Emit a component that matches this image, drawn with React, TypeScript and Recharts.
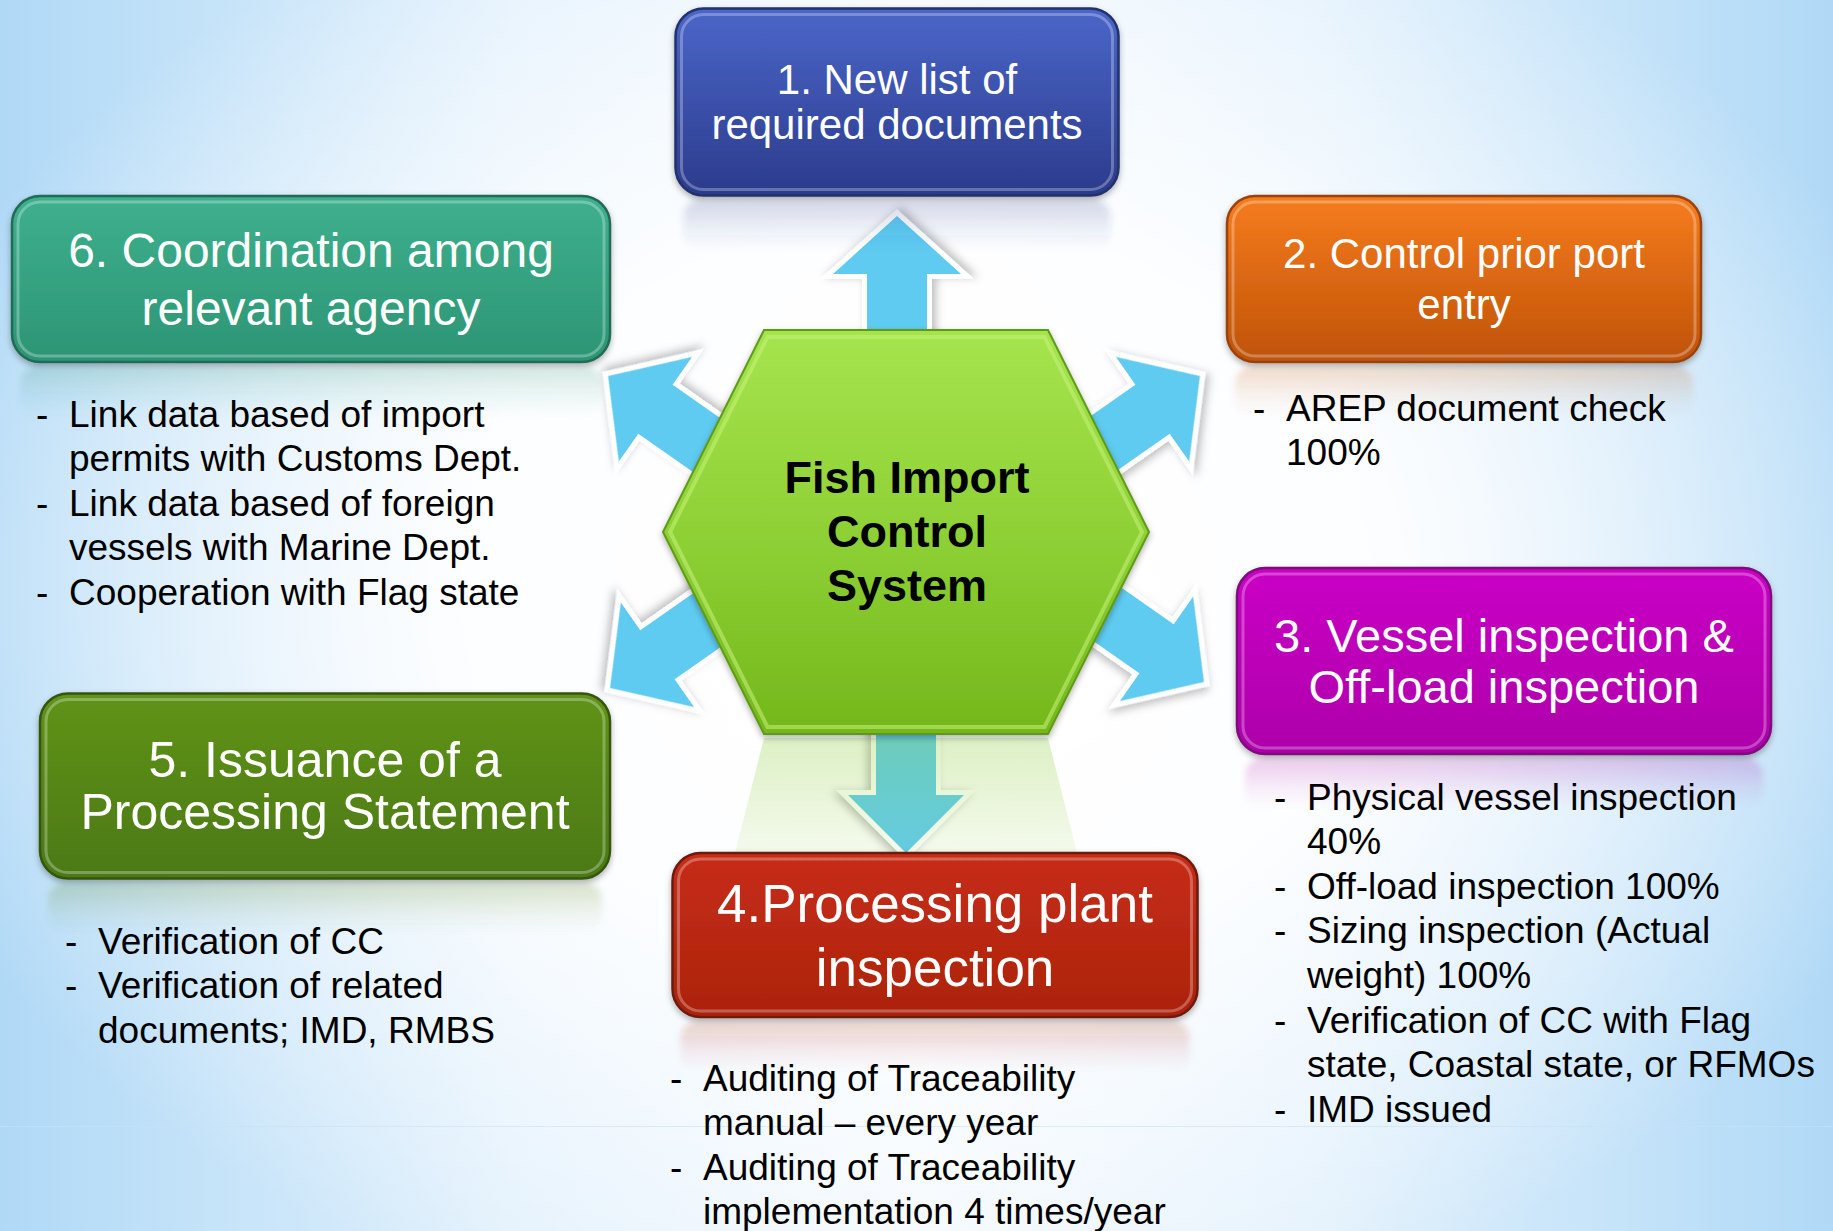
import React from 'react';
import { ScatterChart, Scatter, XAxis, YAxis } from 'recharts';

const W = 1833;
const H = 1231;
const FONT = "'Liberation Sans', Arial, Helvetica, sans-serif";

// box titles, in step order
const stepTitles: string[][] = [
    ['1. New list of', 'required documents'],
    ['2. Control prior port', 'entry'],
    ['3. Vessel inspection &', 'Off-load inspection'],
    ['4.Processing plant', 'inspection'],
    ['5. Issuance of a', 'Processing Statement'],
    ['6. Coordination among', 'relevant agency'],
];

// bullet items under each box (each item wraps as in the slide)
const stepDetails: string[][][] = [
    [],
    [['AREP document check', '100%']],
    [
        ['Physical vessel inspection', '40%'],
        ['Off-load inspection 100%'],
        ['Sizing inspection (Actual', 'weight) 100%'],
        ['Verification of CC with Flag', 'state, Coastal state, or RFMOs'],
        ['IMD issued'],
    ],
    [
        ['Auditing of Traceability', 'manual \u2013 every year'],
        ['Auditing of Traceability', 'implementation 4 times/year'],
    ],
    [['Verification of CC'], ['Verification of related', 'documents; IMD, RMBS']],
    [
        ['Link data based of import', 'permits with Customs Dept.'],
        ['Link data based of foreign', 'vessels with Marine Dept.'],
        ['Cooperation with Flag state'],
    ],
];

const hubTitle = ['Fish Import', 'Control', 'System'];

// layout, in page pixels
const boxLayout = [
    { x: 897, y: 102, w: 443, h: 187, size: 42, gap: 45, top: '#4b66c9', bottom: '#2b3b8b', edge: '#22306a' },
    { x: 1464, y: 279, w: 474, h: 166, size: 42, gap: 51, top: '#f67c1e', bottom: '#bf5307', edge: '#9a4308' },
    { x: 1504, y: 661, w: 534, h: 186, size: 47, gap: 51, top: '#ca02c5', bottom: '#ad00aa', edge: '#7c0a7a' },
    { x: 935, y: 935, w: 525, h: 164, size: 53, gap: 64, top: '#c72d14', bottom: '#ab230f', edge: '#6c1a10' },
    { x: 325, y: 786, w: 570, h: 185, size: 50, gap: 52, top: '#60931a', bottom: '#4b7912', edge: '#35550e' },
    { x: 311, y: 279, w: 598, h: 166, size: 48, gap: 58, top: '#3eb08d', bottom: '#2c9574', edge: '#216a55' },
];

const detailLayout = [
    null,
    { x: 1286, y: 408 },
    { x: 1307, y: 797 },
    { x: 703, y: 1078 },
    { x: 98, y: 941 },
    { x: 69, y: 414 },
];

// arrow tips and pointing direction (degrees, screen coords)
const arrowLayout = [
    { x: 897, y: 216, angle: -90, head: 64 },
    { x: 1200, y: 376, angle: -35, head: 64 },
    { x: 1204, y: 682, angle: 35, head: 64 },
    { x: 906, y: 853, angle: 90, head: 58 },
    { x: 610, y: 688, angle: 145, head: 64 },
    { x: 608, y: 376, angle: -145, head: 64 },
];

const hubLayout = [{ x: 906, y: 532, rx: 243, ry: 202, inset: 101 }];

const boxData = boxLayout.map((b, i) => ({ ...b, id: i, lines: stepTitles[i] }));
const detailData = detailLayout
    .map((d, i) => (d ? { ...d, items: stepDetails[i] } : null))
    .filter(Boolean) as { x: number; y: number; items: string[][] }[];
const hubData = hubLayout.map((h) => ({ ...h, lines: hubTitle }));

const renderArrow = (p: any) => {
    const { cx, cy, payload } = p;
    const hl = 58;
    const hw = payload.head;
    const sw = 30;
    const len = 190;
    const pts = [
        [0, 0],
        [-hl, hw],
        [-hl, sw],
        [-len, sw],
        [-len, -sw],
        [-hl, -sw],
        [-hl, -hw],
    ]
        .map((q) => q.join(','))
        .join(' ');
    return (
        <g transform={`translate(${cx},${cy}) rotate(${payload.angle})`} filter="url(#arrowShadow)">
            <polygon
                points={pts}
                fill="#5ecbf1"
                stroke="#ffffff"
                strokeWidth={10}
                strokeLinejoin="miter"
                paintOrder="stroke"
            />
        </g>
    );
};

const renderHub = (p: any) => {
    const { cx, cy, payload } = p;
    const { rx, ry, inset } = payload;
    const poly = (k: number) =>
        [
            [cx - rx + k, cy],
            [cx - rx + inset + k * 0.5, cy - ry + k],
            [cx + rx - inset - k * 0.5, cy - ry + k],
            [cx + rx - k, cy],
            [cx + rx - inset - k * 0.5, cy + ry - k],
            [cx - rx + inset + k * 0.5, cy + ry - k],
        ]
            .map((q) => q.join(','))
            .join(' ');
    const refl = [
        [cx - rx + inset, cy + ry + 4],
        [cx + rx - inset, cy + ry + 4],
        [cx + rx, cy + ry * 3],
        [cx - rx, cy + ry * 3],
    ]
        .map((q) => q.join(','))
        .join(' ');
    return (
        <g>
            <defs>
                <linearGradient id="hubFill" x1="0" y1="0" x2="0" y2="1">
                    <stop offset="0%" stopColor="#a6e44d" />
                    <stop offset="55%" stopColor="#8ccf33" />
                    <stop offset="100%" stopColor="#74b71b" />
                </linearGradient>
                <linearGradient id="hubRefl" x1="0" y1="0" x2="0" y2="1">
                    <stop offset="0%" stopColor="#8fcf3a" stopOpacity={0.3} />
                    <stop offset="30%" stopColor="#8fcf3a" stopOpacity={0.08} />
                    <stop offset="50%" stopColor="#8fcf3a" stopOpacity={0} />
                </linearGradient>
            </defs>
            <polygon points={refl} fill="url(#hubRefl)" />
            <polygon points={poly(0)} fill="url(#hubFill)" stroke="#5f9a16" strokeWidth={2} filter="url(#boxShadow)" />
            <polygon points={poly(7)} fill="none" stroke="#c4f27a" strokeOpacity={0.55} strokeWidth={4} />
            {payload.lines.map((t: string, i: number) => (
                <text
                    key={t}
                    x={cx + 1}
                    y={cy + (i - 1) * 54 - 1}
                    textAnchor="middle"
                    dominantBaseline="central"
                    fontFamily={FONT}
                    fontWeight="bold"
                    fontSize={45}
                    fill="#000"
                >
                    {t}
                </text>
            ))}
        </g>
    );
};

const renderBox = (p: any) => {
    const { cx, cy, payload } = p;
    const { w, h, size, gap, top, bottom, edge, id, lines } = payload;
    const x0 = cx - w / 2;
    const y0 = cy - h / 2;
    return (
        <g>
            <defs>
                <linearGradient id={`boxFill${id}`} x1="0" y1="0" x2="0" y2="1">
                    <stop offset="0%" stopColor={top} />
                    <stop offset="100%" stopColor={bottom} />
                </linearGradient>
                <linearGradient id={`boxRefl${id}`} x1="0" y1="0" x2="0" y2="1">
                    <stop offset="0%" stopColor={bottom} stopOpacity={0.2} />
                    <stop offset="60%" stopColor={bottom} stopOpacity={0.06} />
                    <stop offset="100%" stopColor={bottom} stopOpacity={0} />
                </linearGradient>
            </defs>
            <rect
                x={x0 + 8}
                y={y0 + h + 5}
                width={w - 16}
                height={50}
                rx={16}
                fill={`url(#boxRefl${id})`}
                filter="url(#soften)"
            />
            <rect
                x={x0}
                y={y0}
                width={w}
                height={h}
                rx={28}
                fill={`url(#boxFill${id})`}
                stroke={edge}
                strokeWidth={2.5}
                filter="url(#boxShadow)"
            />
            <rect
                x={x0 + 6}
                y={y0 + 6}
                width={w - 12}
                height={h - 12}
                rx={22}
                fill="none"
                stroke="#ffffff"
                strokeOpacity={0.28}
                strokeWidth={3}
            />
            {lines.map((t: string, i: number) => (
                <text
                    key={t}
                    x={cx}
                    y={cy + (i - (lines.length - 1) / 2) * gap}
                    textAnchor="middle"
                    dominantBaseline="central"
                    fontFamily={FONT}
                    fontSize={size}
                    fill="#ffffff"
                >
                    {t}
                </text>
            ))}
        </g>
    );
};

const renderDetails = (p: any) => {
    const { cx, cy, payload } = p;
    const rows: React.ReactNode[] = [];
    let row = 0;
    payload.items.forEach((item: string[], i: number) => {
        item.forEach((line, j) => {
            const y = cy + row * 44.6;
            if (j === 0) {
                rows.push(
                    <text key={`d${i}`} x={cx - 33} y={y} dominantBaseline="central" fontFamily={FONT} fontSize={37} fill="#000">
                        -
                    </text>,
                );
            }
            rows.push(
                <text key={`t${i}-${j}`} x={cx} y={y} dominantBaseline="central" fontFamily={FONT} fontSize={37} fill="#000">
                    {line}
                </text>,
            );
            row += 1;
        });
    });
    return <g>{rows}</g>;
};

const renderDefs = () => (
    <defs>
        <filter id="arrowShadow" x="-30%" y="-30%" width="160%" height="160%">
            <feDropShadow dx="2" dy="4" stdDeviation="4" floodColor="#000" floodOpacity="0.25" />
        </filter>
        <filter id="boxShadow" x="-10%" y="-10%" width="120%" height="130%">
            <feDropShadow dx="0" dy="3" stdDeviation="3" floodColor="#000" floodOpacity="0.3" />
        </filter>
        <filter id="soften" x="-5%" y="-20%" width="110%" height="140%">
            <feGaussianBlur stdDeviation="3" />
        </filter>
    </defs>
);

const App: React.FC = () => {
    return (
        <div
            style={{
                position: 'absolute',
                left: 0,
                top: 0,
                width: W,
                height: H,
                overflow: 'hidden',
                background:
                    'radial-gradient(ellipse 58% 62% at 50% 48%, rgba(255,255,255,1) 0%, rgba(255,255,255,0.9) 45%, rgba(255,255,255,0) 100%), linear-gradient(90deg, #b0d9f6 0%, #e2f1fc 28%, #f3f9fe 50%, #e2f1fc 72%, #b0d9f6 100%)',
            }}
        >
            <div style={{ position: 'absolute', left: 0, top: 1126, width: W, height: 1, background: 'rgba(200,225,245,0.6)' }} />
            <ScatterChart width={W} height={H} margin={{ top: 0, right: 0, bottom: 0, left: 0 }} style={{ position: 'absolute', left: 0, top: 0 }}>
                <XAxis type="number" dataKey="x" domain={[0, W]} hide />
                <YAxis type="number" dataKey="y" domain={[0, H]} reversed hide />
                <Scatter data={[{ x: 0, y: 0 }]} shape={renderDefs} isAnimationActive={false} />
                <Scatter data={arrowLayout} shape={renderArrow} isAnimationActive={false} />
                <Scatter data={hubData} shape={renderHub} isAnimationActive={false} />
                <Scatter data={boxData} shape={renderBox} isAnimationActive={false} />
                <Scatter data={detailData} shape={renderDetails} isAnimationActive={false} />
            </ScatterChart>
        </div>
    );
};

export default App;
